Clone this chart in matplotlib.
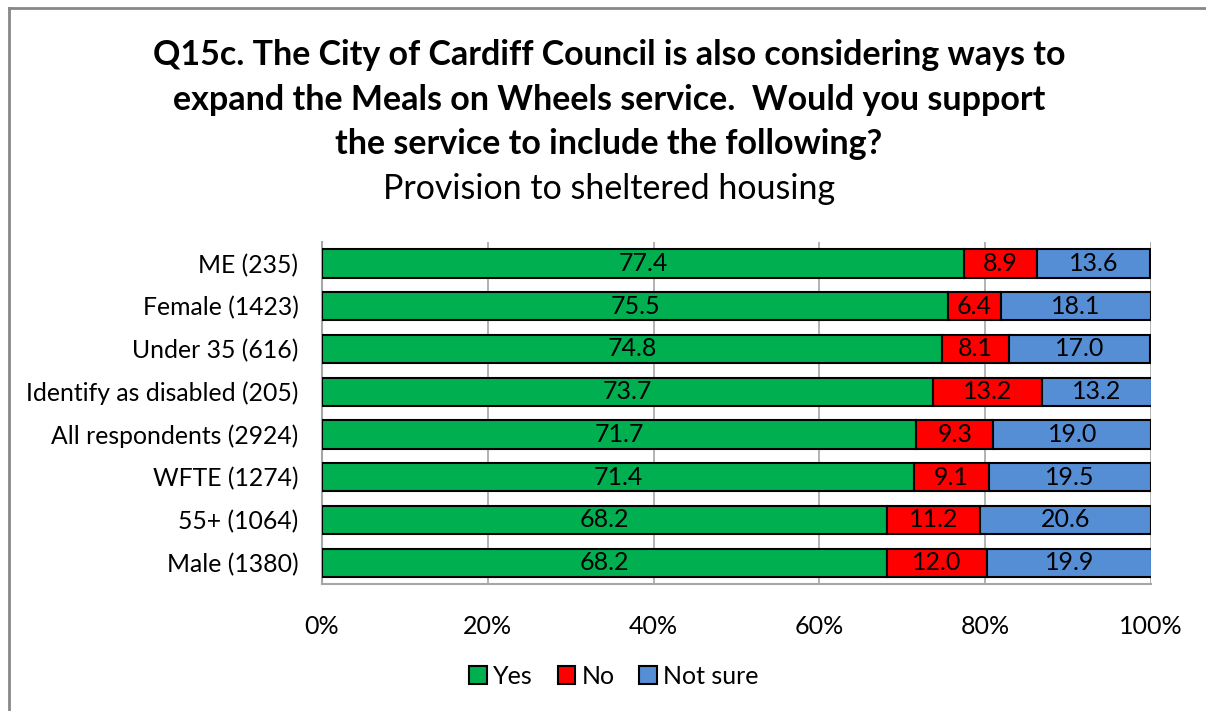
import matplotlib.pyplot as plt
import numpy as np

plt.rcParams['font.family'] = ['Lato', 'DejaVu Sans']

groups = ["ME (235)", "Female (1423)", "Under 35 (616)", "Identify as disabled (205)",
          "All respondents (2924)", "WFTE (1274)", "55+ (1064)", "Male (1380)"]
yes = [77.4, 75.5, 74.8, 73.7, 71.7, 71.4, 68.2, 68.2]
no = [8.9, 6.4, 8.1, 13.2, 9.3, 9.1, 11.2, 12.0]
not_sure = [13.6, 18.1, 17.0, 13.2, 19.0, 19.5, 20.6, 19.9]

title_lines = ["Q15c. The City of Cardiff Council is also considering ways to",
               "expand the Meals on Wheels service.  Would you support",
               "the service to include the following?"]

series = [("Yes", yes, "#00B050"), ("No", no, "#FF0000"), ("Not sure", not_sure, "#558ED5")]

fig = plt.figure(figsize=(12.06, 7.11), dpi=100)
ax = fig.add_axes([0.267, 0.1786, 0.6874, 0.481])

ypos = np.arange(len(groups))
left = np.zeros(len(groups))
for name, vals, col in series:
    vals = np.array(vals)
    bars = ax.barh(ypos, vals, left=left, height=0.66, color=col,
                   edgecolor="black", linewidth=1.5, label=name, zorder=3)
    for b, v in zip(bars, vals):
        ax.text(b.get_x() + b.get_width() / 2, b.get_y() + b.get_height() / 2,
                f"{v:.1f}", ha="center", va="center", fontsize=18, zorder=4)
    left += vals

ax.set_xlim(0, 100)
ax.set_ylim(len(groups) - 0.5, -0.5)
ax.set_yticks(ypos)
ax.set_yticklabels(groups, fontsize=17.8)
ax.set_xticks(np.arange(0, 101, 20))
ax.set_xticklabels([f"{t}%" for t in range(0, 101, 20)], fontsize=18)
ax.tick_params(axis="y", length=0, pad=17)
ax.tick_params(axis="x", length=0, pad=22)
ax.grid(axis="x", color="#A6A6A6", linewidth=1.2, zorder=0)
for s in ["top", "right"]:
    ax.spines[s].set_visible(False)
for s in ["left", "bottom"]:
    ax.spines[s].set_color("#A6A6A6")
    ax.spines[s].set_linewidth(1.5)

for i, line in enumerate(title_lines):
    fig.text(0.505, 1 - (55 + 44.5 * i) / 711, line, ha="center", va="center",
             fontsize=24.5, fontweight="bold")
fig.text(0.505, 1 - 189 / 711, "Provision to sheltered housing", ha="center", va="center",
         fontsize=24.5)

ax.legend(loc="center", bbox_to_anchor=(0.509, 0.049), bbox_transform=fig.transFigure,
          ncol=3, frameon=False, fontsize=18, handlelength=0.7, handleheight=0.7,
          handletextpad=0.25, columnspacing=1.0)

# outer frame (left and top edges only visible)
fig.add_artist(plt.Line2D([0.0075, 0.0075], [0, 0.989], color="#888888", linewidth=2,
                          transform=fig.transFigure))
fig.add_artist(plt.Line2D([0.0075, 1], [0.989, 0.989], color="#888888", linewidth=2,
                          transform=fig.transFigure))

fig.savefig("out.png", dpi=100)
